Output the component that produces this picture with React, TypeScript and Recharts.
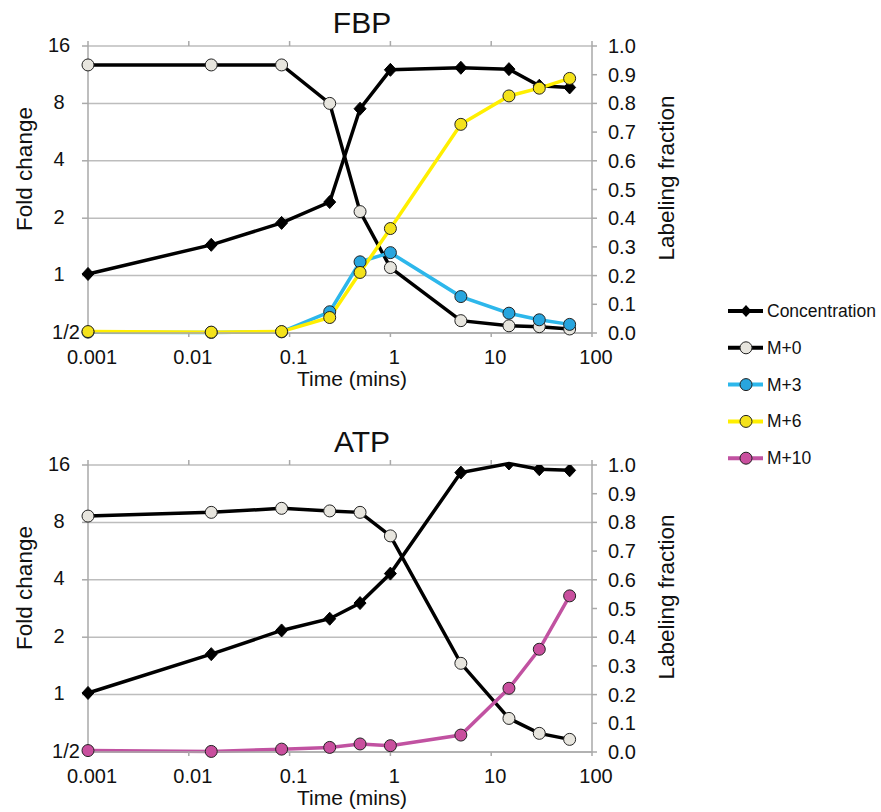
import React from 'react';
import { LineChart, Line, XAxis, YAxis, CartesianGrid, Label } from 'recharts';

const FONT = '"Liberation Sans", Arial, Helvetica, sans-serif';
const TEXT = '#111111';
const AXIS = '#A9A9A9';
const GRID = '#BDBDBD';

// time points (minutes); t=0 drawn at 0.001
const timeMin = [0.001, 0.0167, 0.0833, 0.25, 0.5, 1, 5, 15, 30, 60];

const xTicks = [0.001, 0.01, 0.1, 1, 10, 100];
const xTickLabels = ['0.001', '0.01', '0.1', '1', '10', '100'];
const foldTicks = [0.5, 1, 2, 4, 8, 16];
const foldTickLabels = ['1/2', '1', '2', '4', '8', '16'];
const fracTicks = [0, 0.1, 0.2, 0.3, 0.4, 0.5, 0.6, 0.7, 0.8, 0.9, 1.0];

// FBP
const fbpConc = [1.02, 1.45, 1.89, 2.43, 7.5, 12.0, 12.3, 12.1, 9.9, 9.7];
const fbpM0 = [0.934, 0.934, 0.934, 0.8, 0.423, 0.228, 0.043, 0.025, 0.022, 0.014];
const fbpM3 = [0.003, 0.002, 0.004, 0.074, 0.248, 0.28, 0.127, 0.069, 0.046, 0.03];
const fbpM6 = [0.005, 0.003, 0.005, 0.054, 0.211, 0.364, 0.727, 0.826, 0.853, 0.887];

// ATP
const atpConc = [1.02, 1.63, 2.17, 2.5, 3.02, 4.31, 14.6, 16.3, 15.2, 15.0];
const atpM0 = [0.822, 0.835, 0.849, 0.84, 0.835, 0.753, 0.309, 0.117, 0.065, 0.044];
const atpM10 = [0.005, 0.002, 0.01, 0.016, 0.028, 0.022, 0.059, 0.222, 0.358, 0.544];

const seriesNames = ['Concentration', 'M+0', 'M+3', 'M+6', 'M+10'];
const seriesKeys = ['conc', 'm0', 'm3', 'm6', 'm10'];
const lineColors = ['#000000', '#000000', '#2DB7EB', '#FFEF00', '#C152A1'];
const dotColors = ['#000000', '#E7E5DE', '#28A5DE', '#F4E21B', '#C94F9E'];

const fbpData = timeMin.map((t, i) => ({ t, conc: fbpConc[i], m0: fbpM0[i], m3: fbpM3[i], m6: fbpM6[i] }));
const atpData = timeMin.map((t, i) => ({ t, conc: atpConc[i], m0: atpM0[i], m10: atpM10[i] }));

const diamondDot = (props: any) => {
  const { cx, cy, index } = props;
  if (cx == null || cy == null) return <g key={`d-${index}`} />;
  return (
    <path
      key={`d-${index}`}
      d={`M${cx},${cy - 6.5} L${cx + 6},${cy} L${cx},${cy + 6.5} L${cx - 6},${cy} Z`}
      fill="#000"
      stroke="#000"
      strokeWidth={1}
    />
  );
};

const LeftTick = (props: any) => {
  const { x, y, payload } = props;
  const idx = foldTicks.indexOf(payload.value);
  const lbl = idx >= 0 ? foldTickLabels[idx] : String(payload.value);
  const dx = payload.value === 0.5 ? 7 : 0;
  return (
    <text x={x + dx} y={y + 5.5} textAnchor="middle" fontSize={20} fontFamily={FONT} fill={TEXT}>
      {lbl}
    </text>
  );
};

const RightTick = (props: any) => {
  const { x, y, payload } = props;
  return (
    <text x={x} y={y + 7} textAnchor="start" fontSize={20} fontFamily={FONT} fill={TEXT}>
      {Number(payload.value).toFixed(1)}
    </text>
  );
};

const BottomTick = (props: any) => {
  const { x, y, payload } = props;
  const idx = xTicks.indexOf(payload.value);
  const lbl = idx >= 0 ? xTickLabels[idx] : String(payload.value);
  return (
    <text x={x + 4} y={y + 25} textAnchor="middle" fontSize={20} fontFamily={FONT} fill={TEXT}>
      {lbl}
    </text>
  );
};

const EmptyTick = () => <g />;

const vLabel = (text: string, dx: number, dy: number) => (props: any) => {
  const vb = props.viewBox || { x: 0, y: 0 };
  const cx = vb.x + dx;
  const cy = vb.y + dy;
  return (
    <text
      x={cx}
      y={cy}
      transform={`rotate(-90 ${cx} ${cy})`}
      textAnchor="middle"
      dominantBaseline="central"
      fontSize={22.5}
      fontFamily={FONT}
      fill={TEXT}
    >
      {text}
    </text>
  );
};

const xLabel = (props: any) => {
  const vb = props.viewBox || { x: 0, y: 0 };
  return (
    <text x={vb.x + 264} y={vb.y + 53} textAnchor="middle" fontSize={21} fontFamily={FONT} fill={TEXT}>
      Time (mins)
    </text>
  );
};

function Panel({ data, keys }: { data: any[]; keys: string[] }) {
  return (
    <LineChart width={700} height={390} data={data} margin={{ top: 36, right: 8, bottom: 12, left: 0 }}>
      <CartesianGrid xAxisId="b" yAxisId="left" vertical={false} stroke={GRID} strokeWidth={1.5} />
      <XAxis
        xAxisId="t"
        orientation="top"
        dataKey="t"
        type="number"
        scale="log"
        domain={[0.001, 100]}
        ticks={xTicks}
        height={10}
        axisLine={false}
        tickLine={{ stroke: AXIS, strokeWidth: 1.5 }}
        tickSize={5}
        tick={EmptyTick}
      />
      <XAxis
        xAxisId="b"
        dataKey="t"
        type="number"
        scale="log"
        domain={[0.001, 100]}
        ticks={xTicks}
        height={45}
        axisLine={{ stroke: AXIS, strokeWidth: 1.5 }}
        tickLine={{ stroke: AXIS, strokeWidth: 1.5 }}
        tickSize={4}
        tickMargin={2}
        tick={BottomTick}
      >
        <Label content={xLabel} />
      </XAxis>
      <YAxis
        yAxisId="left"
        type="number"
        scale="log"
        domain={[0.5, 16]}
        allowDataOverflow
        ticks={foldTicks}
        width={88}
        axisLine={{ stroke: AXIS, strokeWidth: 1.5 }}
        tickLine={{ stroke: AXIS, strokeWidth: 1.5 }}
        tickSize={6}
        tickMargin={23}
        tick={LeftTick}
      >
        <Label content={vLabel('Fold change', 24, 123)} />
      </YAxis>
      <YAxis
        yAxisId="right"
        orientation="right"
        type="number"
        domain={[0, 1]}
        ticks={fracTicks}
        width={100}
        axisLine={{ stroke: AXIS, strokeWidth: 1.5 }}
        tickLine={{ stroke: AXIS, strokeWidth: 1.5 }}
        tickSize={5}
        tickMargin={11}
        tick={RightTick}
      >
        <Label content={vLabel('Labeling fraction', 74, 132)} />
      </YAxis>
      {keys.map((k) => {
        const i = seriesKeys.indexOf(k);
        if (k === 'conc') {
          return (
            <Line
              key={k}
              xAxisId="b"
              yAxisId="left"
              dataKey={k}
              type="linear"
              stroke={lineColors[i]}
              strokeWidth={3.5}
              dot={diamondDot}
              activeDot={false}
              isAnimationActive={false}
            />
          );
        }
        return (
          <Line
            key={k}
            xAxisId="b"
            yAxisId="right"
            dataKey={k}
            type="linear"
            stroke={lineColors[i]}
            strokeWidth={3.5}
            dot={{ r: 6, fill: dotColors[i], stroke: '#222', strokeWidth: 1 }}
            activeDot={false}
            isAnimationActive={false}
          />
        );
      })}
    </LineChart>
  );
}

const titles = ['FBP', 'ATP'];
const panelTops = [0, 419];

export default function App() {
  return (
    <div style={{ position: 'absolute', left: 0, top: 0, width: 881, height: 812, background: '#fff', overflow: 'hidden' }}>
      <style>{'.recharts-line, .recharts-line * { clip-path: none !important; }'}</style>
      <div style={{ position: 'absolute', left: 0, top: panelTops[0] }}>
        <Panel data={fbpData} keys={['conc', 'm0', 'm3', 'm6']} />
      </div>
      <div style={{ position: 'absolute', left: 0, top: panelTops[1] }}>
        <Panel data={atpData} keys={['conc', 'm0', 'm10']} />
      </div>
      <svg
        width={881}
        height={812}
        style={{ position: 'absolute', left: 0, top: 0, pointerEvents: 'none' }}
      >
        {titles.map((t, i) => (
          <text key={t} x={362} y={panelTops[i] + 33} textAnchor="middle" fontSize={30} fontFamily={FONT} fill={TEXT}>
            {t}
          </text>
        ))}
        {seriesNames.map((name, i) => {
          const y = 311 + i * 36.8;
          return (
            <g key={name}>
              <line x1={728} x2={763} y1={y} y2={y} stroke={lineColors[i]} strokeWidth={4} />
              {i === 0 ? (
                <path d={`M746,${y - 6} L751.5,${y} L746,${y + 6} L740.5,${y} Z`} fill="#000" />
              ) : (
                <circle cx={746} cy={y} r={6} fill={dotColors[i]} stroke="#222" strokeWidth={1} />
              )}
              <text x={767} y={y + 6} fontSize={17.5} fontFamily={FONT} fill={TEXT}>
                {name}
              </text>
            </g>
          );
        })}
      </svg>
    </div>
  );
}
